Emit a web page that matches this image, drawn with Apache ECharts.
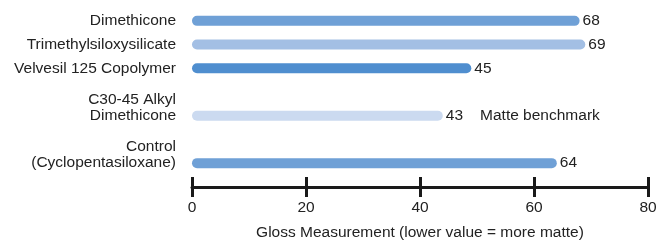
<!DOCTYPE html>
<html>
<head>
<meta charset="utf-8">
<script src="https://cdn.jsdelivr.net/npm/echarts@6/dist/echarts.min.js"></script>
<style>
  html, body { margin: 0; padding: 0; background: #fff; }
  #chart { width: 659px; height: 240px; }
</style>
</head>
<body>
<div id="chart"></div>
<script>
// rows top to bottom, '' rows are spacers between groups
const categories = ['Dimethicone', 'Trimethylsiloxysilicate', 'Velvesil 125 Copolymer', '', 'C30-45 Alkyl\nDimethicone', '', 'Control\n(Cyclopentasiloxane)']
// bar lengths as drawn
const barValues = [68, 69, 49, null, 44, null, 64]
// numbers printed next to the bars
const valueLabels = ['68', '69', '45', '', '43', '', '64']
const notes = ['', '', '', '', 'Matte benchmark', '', '']
const barColors = ['#6fa0d6', '#a3bfe4', '#4f8ecf', null, '#cbdaf0', null, '#6fa0d6']
const xMin = 0, xMax = 80, xStep = 20
const xTitle = 'Gloss Measurement (lower value = more matte)'

const font = 'Liberation Sans, Arial, Helvetica, sans-serif'
const textColor = '#222'

const myChart = echarts.init(document.getElementById('chart'))
myChart.setOption({
    animation: false,
    grid: { left: 192, right: 11, top: 9, bottom: 65, outerBoundsMode: 'none', containLabel: false },
    xAxis: [
        {
            type: 'value',
            min: xMin,
            max: xMax,
            interval: xStep,
            offset: 12,
            name: xTitle,
            nameLocation: 'middle',
            nameGap: 38,
            nameTextStyle: { color: textColor, fontSize: 15.5, fontFamily: font },
            axisLine: { show: true, lineStyle: { color: '#1a1a1a', width: 3 } },
            axisTick: { show: true, length: 10, lineStyle: { color: '#1a1a1a', width: 3 } },
            axisLabel: { color: textColor, fontSize: 15.5, fontFamily: font, margin: 13 },
            splitLine: { show: false }
        },
        // second axis only for the upper half of the ticks
        {
            type: 'value',
            position: 'bottom',
            min: xMin,
            max: xMax,
            interval: xStep,
            offset: 12,
            axisLine: { show: false },
            axisTick: { show: true, inside: true, length: 10, lineStyle: { color: '#1a1a1a', width: 3 } },
            axisLabel: { show: false },
            splitLine: { show: false }
        }
    ],
    yAxis: {
        type: 'category',
        inverse: true,
        data: categories,
        axisLine: { show: false },
        axisTick: { show: false },
        axisLabel: {
            color: textColor,
            fontSize: 15.5,
            fontFamily: font,
            lineHeight: 16,
            margin: 16,
            // two-line names sit with their last line on the bar
            formatter: (v) => v.indexOf('\n') >= 0 ? v + '\n ' : v
        }
    },
    series: [
        {
            type: 'bar',
            barWidth: 10,
            data: barValues.map((v, i) => ({
                value: v,
                itemStyle: { color: barColors[i], borderRadius: 5 }
            })),
            label: {
                show: true,
                position: 'right',
                distance: 3,
                color: textColor,
                fontSize: 15.5,
                fontFamily: font,
                formatter: (p) => valueLabels[p.dataIndex] + (notes[p.dataIndex] ? '{n|' + notes[p.dataIndex] + '}' : ''),
                rich: {
                    n: { color: textColor, fontSize: 15.5, fontFamily: font, padding: [0, 0, 0, 17] }
                }
            }
        }
    ]
})
window.addEventListener('resize', () => {
    myChart.resize()
})
</script>
</body>
</html>
